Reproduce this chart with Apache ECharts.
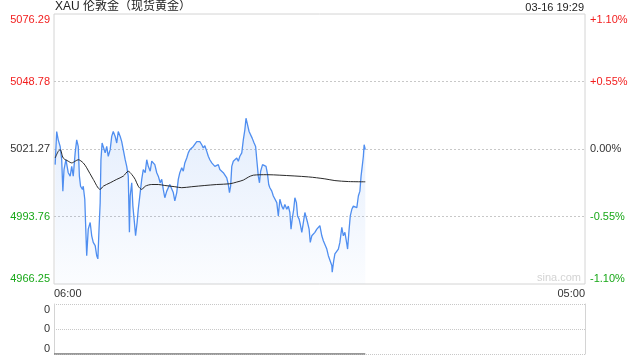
<!DOCTYPE html>
<html><head><meta charset="utf-8">
<script src="https://cdn.jsdelivr.net/npm/echarts@6/dist/echarts.min.js"></script>
<style>html,body{margin:0;padding:0;background:#fff}#c{width:640px;height:360px}</style>
</head><body><div id="c"></div>
<script>
const titleText = 'XAU 伦敦金（现货黄金）';
const timeText = '03-16 19:29';
const prevClose = 5021.27;
const priceTicks = [4966.25, 4993.76, 5021.27, 5048.78, 5076.29];
const pctTicks = [-1.10, -0.55, 0, 0.55, 1.10];
const xTickLabels = ['06:00', '05:00'];
const totalMinutes = 1380;

const minutes = [3,7,11,16,20,23,26,31,37,42,46,50,55,59,63,66,69,74,76,80,82,85,89,94,98,102,107,111,114,117,120,122,125,128,133,137,141,146,150,154,159,163,167,172,176,180,185,189,193,196,198,202,205,209,212,216,219,224,228,232,237,241,245,250,254,258,262,267,271,276,280,284,288,293,297,301,306,310,314,319,323,327,332,336,340,345,349,353,358,362,366,371,375,379,384,388,392,397,401,405,410,414,418,423,427,431,436,440,444,449,453,456,459,462,466,470,475,479,483,488,492,496,499,502,507,511,515,520,524,527,531,534,537,542,547,551,555,558,561,566,570,574,579,583,587,592,596,600,605,609,613,616,619,623,626,630,633,637,640,644,648,652,656,659,663,666,670,674,678,683,687,691,696,700,704,709,713,717,722,723,727,730,735,739,743,748,752,756,761,763,767,770,774,778,782,787,791,795,798,801,804,806,809];
const prices = [5014.9,5028.4,5025.0,5022.3,5016.9,5004.1,5012.9,5016.9,5011.6,5010.2,5014.2,5010.2,5019.7,5025.0,5022.3,5010.2,5006.1,5004.8,5006.1,5000.8,4991.3,4977.8,4988.6,4991.3,4985.9,4983.2,4981.9,4977.8,4976.5,4988.6,4999.4,5016.9,5023.7,5024.3,5019.7,5022.3,5018.3,5021.0,5026.4,5028.4,5026.4,5023.7,5028.4,5026.4,5024.3,5021.0,5016.9,5014.2,5010.2,4987.3,5002.1,5007.5,4998.0,4991.3,4985.9,4991.3,4996.7,5003.5,5008.9,5012.9,5011.6,5016.9,5014.2,5012.2,5016.3,5016.9,5014.9,5011.6,5010.2,5007.5,5008.9,5004.8,5001.4,5004.1,5003.5,5006.8,5007.5,5003.5,5000.1,5003.5,5008.9,5011.6,5013.6,5012.2,5015.6,5017.6,5019.7,5021.0,5020.3,5022.3,5023.0,5024.3,5025.0,5024.3,5023.0,5021.7,5022.6,5020.3,5018.3,5016.9,5015.6,5014.9,5014.2,5013.6,5014.9,5012.9,5013.6,5011.6,5010.9,5009.5,5006.8,5003.5,5006.1,5014.2,5016.3,5016.9,5017.6,5016.3,5018.3,5019.7,5025.0,5029.1,5033.8,5031.8,5028.4,5027.7,5025.7,5023.7,5022.3,5016.9,5010.2,5007.5,5012.2,5014.9,5015.6,5014.2,5010.9,5006.8,5005.5,5004.1,5002.1,5002.8,4999.4,4994.0,5000.8,4998.0,4996.7,4998.7,4996.7,4998.0,4995.4,4988.6,4992.7,4996.7,5001.4,4999.4,4994.0,4992.7,4990.6,4987.3,4991.3,4995.4,4996.0,4991.3,4988.6,4983.2,4985.9,4986.6,4987.3,4988.6,4989.3,4990.0,4985.9,4983.9,4983.2,4980.5,4977.8,4977.8,4973.8,4971.1,4975.8,4978.5,4979.2,4980.5,4983.2,4989.3,4985.9,4987.3,4982.6,4980.5,4988.6,4994.0,4996.7,4998.0,4998.0,4997.4,5002.1,5004.1,5010.2,5014.2,5018.3,5023.0,5021.0];

const avgMinutes = [3,11,16,24,37,46,55,63,76,85,102,120,128,146,163,180,193,202,211,219,228,237,254,271,288,314,332,358,392,423,457,475,492,505,518,553,587,661,704,730,765,809];
const avgPrices = [5017.6,5020.3,5021.0,5017.6,5016.3,5015.6,5016.3,5016.9,5015.6,5013.6,5008.9,5004.8,5006.1,5007.5,5008.9,5010.2,5012.2,5010.9,5008.9,5006.1,5004.8,5006.1,5006.8,5006.8,5006.4,5005.9,5005.5,5005.9,5006.4,5006.8,5007.1,5007.8,5008.6,5009.8,5010.6,5010.8,5010.6,5009.9,5009.1,5008.4,5008.0,5007.9];

const volMinutes = [0, 809];
const volValues = [0, 0];
const volTicks = [0, 1, 2];

const RED = '#f21d1d', GREEN = '#18a818', DARK = '#333';
const FONT = '"Liberation Sans", Arial, "Noto Sans CJK SC", sans-serif';

const chart = echarts.init(document.getElementById('c'), null, {renderer: 'canvas'});
chart.setOption({
  animation: false,
  backgroundColor: '#fff',
  textStyle: {fontFamily: FONT},
  graphic: [
    {type: 'text', left: 55, top: 1, style: {text: titleText, fontSize: 12, fill: '#222', fontFamily: FONT}},
    {type: 'text', right: 56, top: 2, style: {text: timeText, fontSize: 11, fill: '#222', fontFamily: FONT}},
    {type: 'text', left: 537, top: 272, style: {text: 'sina.com', fontSize: 11, fill: '#d3d3d3', fontFamily: FONT}}
  ],
  grid: [
    {left: 54, top: 14, width: 531, height: 270, show: true, borderColor: '#d4d4d4', borderWidth: 1, containLabel: false},
    {left: 54, top: 304, width: 531, height: 50, show: false, containLabel: false}
  ],
  xAxis: [
    {type: 'value', gridIndex: 0, min: 0, max: totalMinutes, interval: totalMinutes,
     axisLine: {show: false}, axisTick: {show: false}, splitLine: {show: false},
     axisLabel: {show: true, color: DARK, fontSize: 11, margin: 4, alignMinLabel: 'left', alignMaxLabel: 'right',
       formatter: (v) => v === 0 ? xTickLabels[0] : xTickLabels[1]}},
    {type: 'value', gridIndex: 1, min: 0, max: totalMinutes,
     axisLine: {show: false}, axisTick: {show: false}, splitLine: {show: false}, axisLabel: {show: false}}
  ],
  yAxis: [
    {type: 'value', gridIndex: 0, position: 'left', min: priceTicks[0], max: priceTicks[4],
     axisLine: {show: false}, axisTick: {show: false}, splitLine: {show: false},
     axisLabel: {customValues: priceTicks, fontSize: 11, margin: 4,
       verticalAlignMinLabel: 'bottom', verticalAlignMaxLabel: 'top',
       formatter: (v) => v.toFixed(2),
       color: (v) => { const n = Number(v); return n > prevClose + 0.001 ? RED : (n < prevClose - 0.001 ? GREEN : DARK); }}},
    {type: 'value', gridIndex: 0, position: 'right', min: pctTicks[0], max: pctTicks[4], interval: 0.55,
     axisLine: {show: false}, axisTick: {show: false},
     splitLine: {show: true, lineStyle: {color: '#c8c8c8', type: [2, 2], width: 1}, showMinLine: false, showMaxLine: false},
     axisLabel: {fontSize: 11, margin: 5,
       verticalAlignMinLabel: 'bottom', verticalAlignMaxLabel: 'top',
       formatter: (v) => (v > 0 ? '+' : '') + Number(v).toFixed(2) + '%',
       color: (v) => { const n = Number(v); return n > 0.001 ? RED : (n < -0.001 ? GREEN : DARK); }}},
    {type: 'value', gridIndex: 1, position: 'left', min: volTicks[0], max: volTicks[2], interval: 1,
     axisLine: {show: true, lineStyle: {color: '#d4d4d4'}}, axisTick: {show: false},
     splitLine: {show: true, lineStyle: {color: '#c8c8c8', type: [1, 1], width: 1}},
     axisLabel: {fontSize: 11, color: DARK, margin: 4,
       verticalAlignMinLabel: 'bottom', verticalAlignMaxLabel: 'top',
       formatter: () => '0'}},
    {type: 'value', gridIndex: 1, position: 'right', min: volTicks[0], max: volTicks[2],
     axisLine: {show: true, lineStyle: {color: '#d4d4d4'}}, axisTick: {show: false},
     splitLine: {show: false}, axisLabel: {show: false}}
  ],
  series: [
    {type: 'line', xAxisIndex: 0, yAxisIndex: 0, showSymbol: false, symbol: 'none',
     data: minutes.map((m, i) => [m, prices[i]]),
     lineStyle: {color: '#4f8ef0', width: 1.3},
     areaStyle: {origin: 'start', color: new echarts.graphic.LinearGradient(0, 0, 0, 1, [
       {offset: 0, color: 'rgba(79,142,240,0.22)'}, {offset: 1, color: 'rgba(79,142,240,0.03)'}])},
     z: 3},
    {type: 'line', xAxisIndex: 0, yAxisIndex: 0, showSymbol: false, symbol: 'none', smooth: 0.3,
     data: avgMinutes.map((m, i) => [m, avgPrices[i]]),
     lineStyle: {color: '#2a2a2a', width: 1}, z: 4},
    {type: 'line', xAxisIndex: 1, yAxisIndex: 2, showSymbol: false, symbol: 'none',
     data: volMinutes.map((m, i) => [m, volValues[i]]),
     lineStyle: {color: '#777', width: 1.5}, z: 4}
  ]
});
</script></body></html>
